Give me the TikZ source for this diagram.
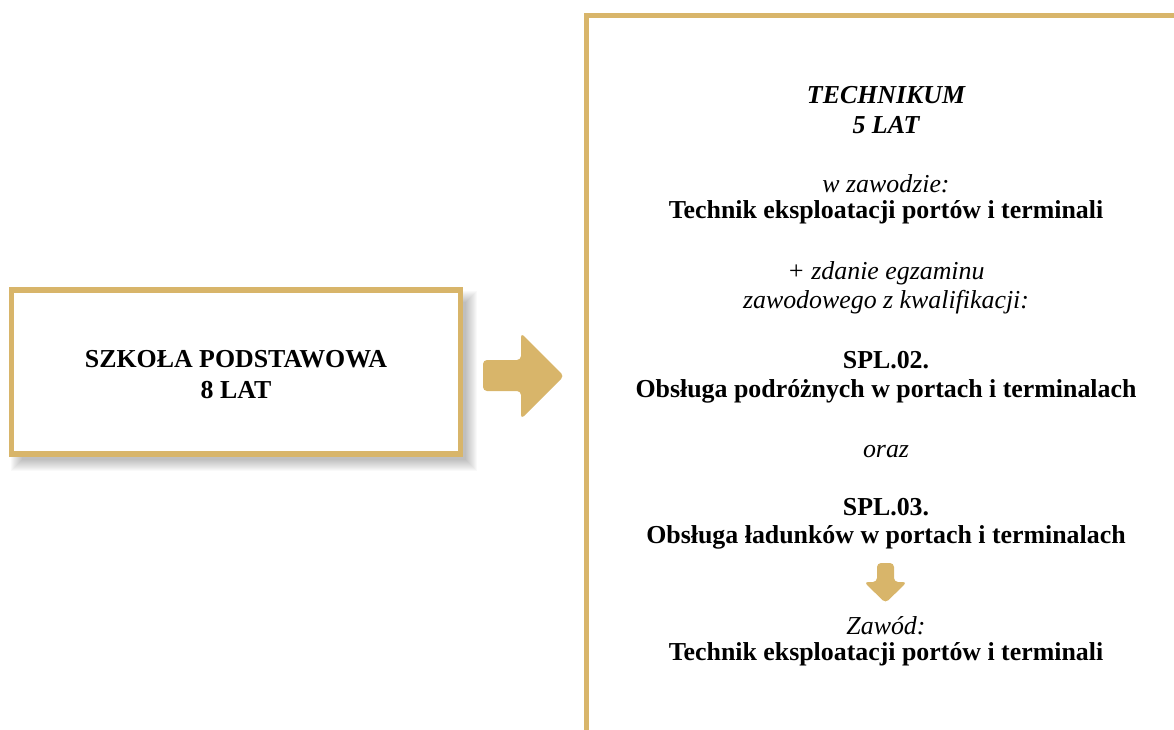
\documentclass[tikz,border=0pt]{standalone}
\usepackage{fontspec}
\setmainfont{Liberation Serif}
\usetikzlibrary{positioning}
\definecolor{zloty}{RGB}{216,181,106}

\begin{document}
\begin{tikzpicture}[x=0.75pt, y=-0.75pt,
    node font=\fontsize{19.4}{22}\selectfont,
    every node/.style = {align=center, anchor=base},
    ramka/.style = {draw=zloty, line width=3.9pt},
    strzalka/.style = {fill=zloty, rounded corners=3pt},
    pogr/.style = {font=\bfseries},
    kurs/.style = {font=\itshape},
    pogrkurs/.style = {font=\bfseries\itshape}]
 \useasboundingbox (0,0) rectangle (1174,729);
 \clip (0,0) rectangle (1174,729);

 % cien pod ramka
 \foreach \s in {0,...,11}
   \fill[black, opacity=0.022] (22-\s,302-\s) rectangle (466+\s,460+\s);
 \draw[ramka, fill=white] (11.7,290) rectangle (460.3,454);
 \node (szkola) [pogr] at (236,367) {SZKOŁA PODSTAWOWA};
 \node (lat8) [pogr] at (236,398) {8 LAT};

 % strzalka w prawo
 \fill[strzalka] (483,360) -- (521,360) -- (521,333) -- (564,376)
   -- (521,419) -- (521,391) -- (483,391) -- cycle;

 % prawa ramka
 \draw[ramka] (1200,15.5) -- (586.5,15.5) -- (586.5,760);

 \node (technikum) [pogrkurs] at (886,103) {TECHNIKUM};
 \node (lat5) [pogrkurs] at (886,133) {5 LAT};
 \node (wzawodzie) [kurs] at (886,192) {w zawodzie:};
 \node (technik) [pogr] at (886,218) {Technik eksploatacji portów i terminali};
 \node (zdanie) [kurs] at (886,279) {+ zdanie egzaminu};
 \node (kwalif) [kurs] at (886,308) {zawodowego z kwalifikacji:};
 \node (spl02) [pogr] at (886,368) {SPL.02.};
 \node (podrozni) [pogr] at (886,397) {Obsługa podróżnych w portach i terminalach};
 \node (oraz) [kurs] at (886,457) {oraz};
 \node (spl03) [pogr] at (886,515) {SPL.03.};
 \node (ladunki) [pogr] at (886,543) {Obsługa ładunków w portach i terminalach};

 % strzalka w dol
 \fill[strzalka] (877,563) -- (894,563) -- (894,582) -- (907,582)
   -- (885.5,603) -- (864,582) -- (877,582) -- cycle;

 \node (zawod) [kurs] at (886,634) {Zawód:};
 \node (technik2) [pogr] at (886,660) {Technik eksploatacji portów i terminali};
\end{tikzpicture}
\end{document}
